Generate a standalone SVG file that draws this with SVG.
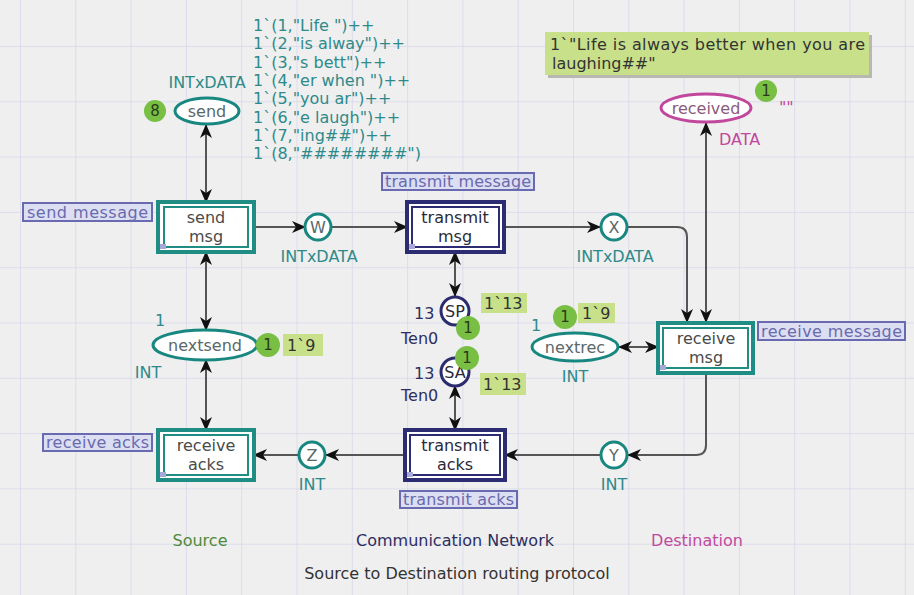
<svg xmlns="http://www.w3.org/2000/svg" width="914" height="595" viewBox="0 0 914 595">
<defs>
<marker id="ah" markerUnits="userSpaceOnUse" markerWidth="14" markerHeight="12" refX="13" refY="6" orient="auto-start-reverse">
<path d="M0,0 L14,6 L0,12 L4,6 z" fill="#111"/>
</marker>
<pattern id="grid" x="20" y="46" width="55.3" height="55.3" patternUnits="userSpaceOnUse">
<path d="M0,0 V55.3 M0,0 H55.3" stroke="#d6d6ec" stroke-width="1.5" fill="none"/>
</pattern>
</defs>
<style>
text{font-family:"DejaVu Sans","Verdana",sans-serif;font-size:16px}
.arc{stroke:#555;stroke-width:2;fill:none}
.dbl{marker-start:url(#ah);marker-end:url(#ah)}
.one{marker-end:url(#ah)}
.tplace{fill:#fff;stroke:#18877f;stroke-width:3}
.nplace{fill:#fff;stroke:#2c2c6e;stroke-width:3}
.mplace{fill:#fff;stroke:#c0479c;stroke-width:3}
.tout{fill:#fff;stroke:#1f8d84;stroke-width:4}
.tin{fill:#fff;stroke:#1f8d84;stroke-width:2}
.nout{fill:#fff;stroke:#2c2c72;stroke-width:4}
.nin{fill:#fff;stroke:#2c2c72;stroke-width:2}
.corner{fill:#a8a8d8}
.lbl{fill:#5a6868;text-anchor:middle}
.tl{fill:#4a4a4a;text-anchor:middle}
.nl{fill:#2a2a3a;text-anchor:middle}
.teal{fill:#2e8a8a}
.navy{fill:#2e2e5e}
.tag rect{fill:#dcdef2;stroke:#6a6ab0;stroke-width:2}
.tag text{fill:#6a6aae;font-size:16px}
.tok circle{fill:#78bf44}
.tok text{fill:#2a3a1a;text-anchor:middle;font-size:15px}
.mk rect{fill:#c8e08a}
.mk text{fill:#333;font-size:16px}
.shadow{fill:#b8b8b0}
</style>
<rect x="0" y="0" width="914" height="595" fill="#efefef"/>
<rect x="0" y="0" width="914" height="595" fill="url(#grid)"/>

<g id="connectors">
<line class="arc dbl" x1="206" y1="125" x2="206" y2="202"/>
<line class="arc dbl" x1="206" y1="252" x2="206" y2="330"/>
<line class="arc dbl" x1="206" y1="360" x2="206" y2="430"/>
<line class="arc one" x1="254" y1="227" x2="305" y2="227"/>
<line class="arc one" x1="331" y1="227" x2="407" y2="227"/>
<line class="arc one" x1="504" y1="227" x2="600" y2="227"/>
<path class="arc one" d="M628,227 H677 Q687,227 687,237 V322"/>
<line class="arc dbl" x1="706" y1="123" x2="706" y2="322"/>
<line class="arc dbl" x1="455" y1="252" x2="455" y2="296"/>
<line class="arc dbl" x1="455" y1="386" x2="455" y2="430"/>
<line class="arc dbl" x1="619" y1="347" x2="658" y2="347"/>
<path class="arc one" d="M706,373 V445 Q706,455 696,455 H628"/>
<line class="arc one" x1="600" y1="455" x2="505" y2="455"/>
<line class="arc one" x1="405" y1="455" x2="326" y2="455"/>
<line class="arc one" x1="298" y1="455" x2="254" y2="455"/>
</g>

<g id="send">
<ellipse class="tplace" cx="207" cy="111" rx="32" ry="13"/>
<text class="lbl" x="207" y="117">send</text>
<text class="teal" x="207" y="88" text-anchor="middle">INTxDATA</text>
<g class="tok"><circle cx="155" cy="111" r="11"/><text x="155" y="116">8</text></g>
<g class="teal">
<text x="253" y="31">1`(1,"Life ")++</text>
<text x="253" y="49">1`(2,"is alway")++</text>
<text x="253" y="68">1`(3,"s bett")++</text>
<text x="253" y="86">1`(4,"er when ")++</text>
<text x="253" y="104">1`(5,"you ar")++</text>
<text x="253" y="123">1`(6,"e laugh")++</text>
<text x="253" y="141">1`(7,"ing##")++</text>
<text x="253" y="159">1`(8,"########")</text>
</g>
</g>

<g id="send-msg">
<rect class="tout" x="158" y="202" width="96" height="50"/>
<rect class="tin" x="164" y="207" width="84" height="40"/>
<rect class="corner" x="160" y="244" width="6" height="5"/>
<text class="tl" x="206" y="223">send</text>
<text class="tl" x="206" y="242">msg</text>
<g class="tag"><rect x="23" y="203" width="129" height="18"/><text x="27" y="218" textLength="121">send message</text></g>
</g>

<g id="W">
<circle class="tplace" cx="318" cy="227" r="13"/>
<text class="lbl" x="318" y="233">W</text>
<text class="teal" x="319" y="262" text-anchor="middle">INTxDATA</text>
</g>

<g id="transmit-msg">
<rect class="nout" x="407" y="202" width="97" height="50"/>
<rect class="nin" x="412" y="207" width="87" height="40"/>
<rect class="corner" x="409" y="244" width="6" height="5"/>
<text class="nl" x="455" y="223">transmit</text>
<text class="nl" x="455" y="242">msg</text>
<g class="tag"><rect x="382" y="173" width="152" height="17"/><text x="385" y="187" textLength="146">transmit message</text></g>
</g>

<g id="X">
<circle class="tplace" cx="614" cy="227" r="13"/>
<text class="lbl" x="614" y="233">X</text>
<text class="teal" x="615" y="262" text-anchor="middle">INTxDATA</text>
</g>

<g id="received">
<rect class="shadow" x="548" y="35" width="324" height="43"/>
<g class="mk"><rect x="545" y="32" width="324" height="43"/><text x="550" y="50" textLength="315">1`"Life is always better when you are</text><text x="552" y="69">laughing##"</text></g>
<ellipse class="mplace" cx="706" cy="108" rx="45" ry="14"/>
<text x="706" y="114" text-anchor="middle" fill="#8a5a7a">received</text>
<g class="tok"><circle cx="766" cy="91" r="11"/><text x="766" y="96">1</text></g>
<text x="779" y="113" fill="#c0479c" font-size="12">""</text>
<text x="719" y="145" fill="#c0479c">DATA</text>
</g>

<g id="receive-msg">
<rect class="tout" x="658" y="323" width="95" height="50"/>
<rect class="tin" x="663" y="328" width="85" height="40"/>
<rect class="corner" x="660" y="365" width="6" height="5"/>
<text class="tl" x="706" y="344">receive</text>
<text class="tl" x="706" y="363">msg</text>
<g class="tag"><rect x="758" y="322" width="147" height="18"/><text x="761" y="337" textLength="141">receive message</text></g>
</g>

<g id="nextrec">
<ellipse class="tplace" cx="575" cy="347" rx="43" ry="14"/>
<text class="lbl" x="575" y="353">nextrec</text>
<text class="teal" x="575" y="382" text-anchor="middle">INT</text>
<text class="teal" x="531" y="331">1</text>
<g class="tok"><circle cx="565" cy="317" r="12"/><text x="565" y="322">1</text></g>
<g class="mk"><rect x="578" y="303" width="37" height="20"/><text x="582" y="319">1`9</text></g>
</g>

<g id="nextsend">
<ellipse class="tplace" cx="205" cy="345" rx="52" ry="15"/>
<text class="lbl" x="205" y="351">nextsend</text>
<text class="teal" x="148" y="378" text-anchor="middle">INT</text>
<text class="teal" x="155" y="326">1</text>
<g class="tok"><circle cx="268" cy="345" r="12"/><text x="268" y="350">1</text></g>
<g class="mk"><rect x="283" y="334" width="40" height="22"/><text x="287" y="351">1`9</text></g>
</g>

<g id="SP">
<circle class="nplace" cx="455" cy="311" r="14"/>
<text class="nl" x="455" y="317">SP</text>
<text class="navy" x="414" y="319">13</text>
<text class="navy" x="401" y="344">Ten0</text>
<g class="tok"><circle cx="468" cy="328" r="12"/><text x="468" y="333">1</text></g>
<g class="mk"><rect x="481" y="293" width="46" height="20"/><text x="484" y="309">1`13</text></g>
</g>

<g id="SA">
<circle class="nplace" cx="455" cy="372" r="14"/>
<text class="nl" x="455" y="378">SA</text>
<text class="navy" x="414" y="379">13</text>
<text class="navy" x="401" y="401">Ten0</text>
<g class="tok"><circle cx="467" cy="358" r="12"/><text x="467" y="363">1</text></g>
<g class="mk"><rect x="480" y="373" width="46" height="22"/><text x="483" y="390">1`13</text></g>
</g>

<g id="transmit-acks">
<rect class="nout" x="405" y="430" width="100" height="50"/>
<rect class="nin" x="410" y="435" width="90" height="40"/>
<rect class="corner" x="407" y="472" width="6" height="5"/>
<text class="nl" x="455" y="451">transmit</text>
<text class="nl" x="455" y="470">acks</text>
<g class="tag"><rect x="400" y="491" width="117" height="17"/><text x="403" y="505" textLength="111">transmit acks</text></g>
</g>

<g id="Y">
<circle class="tplace" cx="614" cy="455" r="13"/>
<text class="lbl" x="614" y="461">Y</text>
<text class="teal" x="614" y="490" text-anchor="middle">INT</text>
</g>

<g id="Z">
<circle class="tplace" cx="312" cy="455" r="13"/>
<text class="lbl" x="312" y="461">Z</text>
<text class="teal" x="312" y="490" text-anchor="middle">INT</text>
</g>

<g id="receive-acks">
<rect class="tout" x="158" y="430" width="96" height="50"/>
<rect class="tin" x="164" y="435" width="84" height="40"/>
<rect class="corner" x="160" y="472" width="6" height="5"/>
<text class="tl" x="206" y="451">receive</text>
<text class="tl" x="206" y="470">acks</text>
<g class="tag"><rect x="43" y="434" width="109" height="17"/><text x="46" y="448" textLength="103">receive acks</text></g>
</g>

<g id="titles">
<text x="200" y="546" text-anchor="middle" fill="#4e8a3a">Source</text>
<text x="455" y="546" text-anchor="middle" fill="#2e2e5e">Communication Network</text>
<text x="697" y="546" text-anchor="middle" fill="#c04aa0">Destination</text>
<text x="457" y="579" text-anchor="middle" fill="#333" font-size="16.5">Source to Destination routing protocol</text>
</g>
</svg>
